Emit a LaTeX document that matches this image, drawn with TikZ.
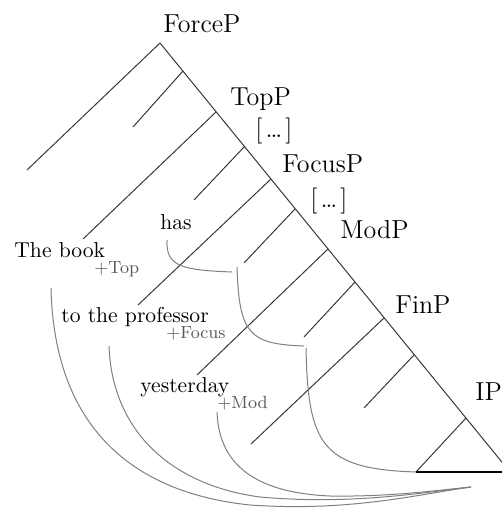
\documentclass[tikz,border=0pt]{standalone}
\tikzset{
  tree/.style={draw=black!78, line width=0.5pt},
  base/.style={draw=black, line width=0.8pt},
  mv/.style={draw=black!50, line width=0.5pt},
  lab/.style={font=\fontsize{13}{15}\selectfont, inner sep=0pt, anchor=base west},
  word/.style={font=\fontsize{10.8}{12}\selectfont, inner sep=0pt, anchor=base west},
  feat/.style={font=\fontsize{8.8}{10}\selectfont, text=black!65, inner sep=0pt, anchor=base west},
}
\begin{document}
\begin{tikzpicture}[x=0.5pt,y=-0.5pt]
\useasboundingbox (0,0) rectangle (502,508);
% spine points
\coordinate (s0) at (160,43);
\coordinate (s1) at (183,71);
\coordinate (s2) at (216,112);
\coordinate (s3) at (245,146);
\coordinate (s4) at (271,179);
\coordinate (s5) at (295,209);
\coordinate (s6) at (328,249);
\coordinate (s7) at (355,282);
\coordinate (s8) at (384,318);
\coordinate (s9) at (414,355);
\coordinate (s10) at (466,418);
\coordinate (sR) at (510,472);
\coordinate (sL) at (416,472);
% branch ends
\coordinate (e0) at (27,170);
\coordinate (e1) at (133,127);
\coordinate (e2) at (83,239);
\coordinate (e3) at (194,200);
\coordinate (e4) at (138,305);
\coordinate (e5) at (244,263);
\coordinate (e6) at (197,375);
\coordinate (e7) at (304,337);
\coordinate (e8) at (251,444);
\coordinate (e9) at (364,408);
% tree
\draw[tree] (s0) -- (sR);
\draw[tree] (s0) -- (e0);
\draw[tree] (s1) -- (e1);
\draw[tree] (s2) -- (e2);
\draw[tree] (s3) -- (e3);
\draw[tree] (s4) -- (e4);
\draw[tree] (s5) -- (e5);
\draw[tree] (s6) -- (e6);
\draw[tree] (s7) -- (e7);
\draw[tree] (s8) -- (e8);
\draw[tree] (s9) -- (e9);
\draw[tree] (s10) -- (sL);
\draw[base] (sL) -- (sR);
% labels
\node[lab] (force) at (163,33) {ForceP};
\node[lab] (top) at (230,105) {TopP};
\node[lab] (dots1) at (255,137) {[\kern0.12em\dots\kern0.12em]};
\node[lab] (focus) at (282,172) {FocusP};
\node[lab] (dots2) at (310,207) {[\kern0.12em\dots\kern0.12em]};
\node[lab] (mod) at (340,238) {ModP};
\node[lab] (fin) at (395,313) {FinP};
\node[lab] (ip) at (475,400) {IP};
% words
\node[word] (has) at (160,229) {has};
\node[word] (book) at (14,257) {The book};
\node[feat] (ftop) at (94,273) {+Top};
\node[word] (prof) at (61,322) {to the professor};
\node[feat] (ffoc) at (166,338) {+Focus};
\node[word] (yest) at (140,392) {yesterday};
\node[feat] (fmod) at (217,408) {+Mod};
% movement curves
\coordinate (conv) at (471,487);
\coordinate (h0) at (167,240);
\coordinate (h1) at (232,272);
\coordinate (h2) at (237,267);
\coordinate (h3) at (304,346);
\coordinate (h4) at (306,348);
\coordinate (b0) at (51,288);
\coordinate (c0) at (109,346);
\coordinate (d0) at (217,412);
\draw[mv] (h0) .. controls (166,266) and (180,270) .. (h1);
\draw[mv] (h2) .. controls (239,335) and (250,344) .. (h3);
\draw[mv] (h4) .. controls (308,445) and (322,469) .. (sL);
\draw[mv] (b0) .. controls (54,420) and (125,492) .. (250,505) .. controls (350,512) and (420,494) .. (conv);
\draw[mv] (c0) .. controls (112,430) and (170,485) .. (260,497) .. controls (350,505) and (420,493) .. (conv);
\draw[mv] (d0) .. controls (219,468) and (260,493) .. (330,496) .. controls (390,497) and (440,490) .. (conv);
\end{tikzpicture}
\end{document}
